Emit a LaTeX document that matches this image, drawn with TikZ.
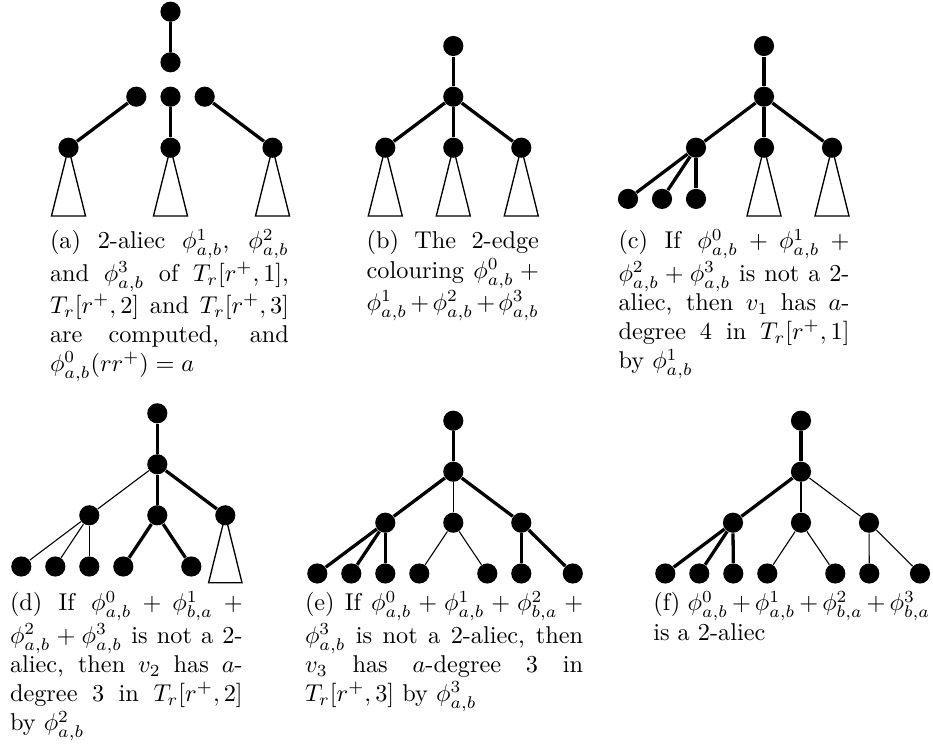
\documentclass[tikz,border=0pt]{standalone}
\usepackage{amsmath}
\tikzset{
  vtx/.style={circle,fill=black,draw=none,inner sep=0pt,minimum size=8.3pt},
  thk/.style={line width=1.35pt},
  thn/.style={line width=0.45pt},
  tri/.style={line width=0.55pt,line join=miter},
  capt/.style={anchor=base west,inner sep=0pt,outer sep=0pt,align=justify,font=\normalsize}
}
\begin{document}
\begin{tikzpicture}[x=0.41152pt,y=-0.41152pt]
\useasboundingbox (0,0) rectangle (933,747);

% ---------- (a) ----------
\draw[tri] (68.5,147.7) -- ++(-17,68.3) -- ++(34,0) -- cycle;
\draw[tri] (170.5,147.7) -- ++(-17,68.3) -- ++(34,0) -- cycle;
\draw[tri] (272.5,147.7) -- ++(-17,68.3) -- ++(34,0) -- cycle;
\node[vtx] (a0) at (170.5,11.7) {};
\node[vtx] (a1) at (170.5,62.3) {};
\node[vtx] (a2) at (136.3,96.7) {};
\node[vtx] (a3) at (170.5,96.7) {};
\node[vtx] (a4) at (204.7,96.7) {};
\node[vtx] (av1) at (68.5,147.7) {};
\node[vtx] (av2) at (170.5,147.7) {};
\node[vtx] (av3) at (272.5,147.7) {};
\draw[thk] (a0) -- (a1);
\draw[thk] (a2) -- (av1);
\draw[thk] (a3) -- (av2);
\draw[thk] (a4) -- (av3);

% ---------- (b) ----------
\draw[tri] (385.3,147.7) -- ++(-17,68.3) -- ++(34,0) -- cycle;
\draw[tri] (453.3,147.7) -- ++(-17,68.3) -- ++(34,0) -- cycle;
\draw[tri] (521.3,147.7) -- ++(-17,68.3) -- ++(34,0) -- cycle;
\node[vtx] (b0) at (453.3,46) {};
\node[vtx] (b1) at (453.3,96.7) {};
\node[vtx] (bv1) at (385.3,147.7) {};
\node[vtx] (bv2) at (453.3,147.7) {};
\node[vtx] (bv3) at (521.3,147.7) {};
\draw[thk] (b0) -- (b1);
\draw[thk] (b1) -- (bv1);
\draw[thk] (b1) -- (bv2);
\draw[thk] (b1) -- (bv3);

% ---------- (c) ----------
\draw[tri] (764,147.7) -- ++(-17,68.3) -- ++(34,0) -- cycle;
\draw[tri] (832,147.7) -- ++(-17,68.3) -- ++(34,0) -- cycle;
\node[vtx] (c0) at (764,46) {};
\node[vtx] (c1) at (764,96.7) {};
\node[vtx] (cv1) at (696,147.7) {};
\node[vtx] (cv2) at (764,147.7) {};
\node[vtx] (cv3) at (832,147.7) {};
\node[vtx] (cl1) at (628,198.9) {};
\node[vtx] (cl2) at (662,198.9) {};
\node[vtx] (cl3) at (696,198.9) {};
\draw[thk] (c0) -- (c1);
\draw[thk] (c1) -- (cv1);
\draw[thk] (c1) -- (cv2);
\draw[thk] (c1) -- (cv3);
\draw[thk] (cv1) -- (cl1);
\draw[thk] (cv1) -- (cl2);
\draw[thk] (cv1) -- (cl3);

% ---------- (d) ----------
\draw[tri] (225.3,515.3) -- ++(-16.7,67.4) -- ++(33.4,0) -- cycle;
\node[vtx] (d0) at (157.3,413.3) {};
\node[vtx] (d1) at (157.3,464.3) {};
\node[vtx] (dv1) at (89.3,515.3) {};
\node[vtx] (dv2) at (157.3,515.3) {};
\node[vtx] (dv3) at (225.3,515.3) {};
\node[vtx] (dl1) at (21.3,566.5) {};
\node[vtx] (dl2) at (55.3,566.5) {};
\node[vtx] (dl3) at (89.3,566.5) {};
\node[vtx] (dl4) at (123.3,566.5) {};
\node[vtx] (dl5) at (191.3,566.5) {};
\draw[thk] (d0) -- (d1);
\draw[thn] (d1) -- (dv1);
\draw[thk] (d1) -- (dv2);
\draw[thk] (d1) -- (dv3);
\draw[thn] (dv1) -- (dl1);
\draw[thn] (dv1) -- (dl2);
\draw[thn] (dv1) -- (dl3);
\draw[thk] (dv2) -- (dl4);
\draw[thk] (dv2) -- (dl5);

% ---------- (e) ----------
\node[vtx] (e0) at (453.3,420.7) {};
\node[vtx] (e1) at (453.3,471.7) {};
\node[vtx] (ev1) at (385.3,522.7) {};
\node[vtx] (ev2) at (453.3,522.7) {};
\node[vtx] (ev3) at (521.3,522.7) {};
\node[vtx] (el1) at (317.3,573.5) {};
\node[vtx] (el2) at (351.3,573.5) {};
\node[vtx] (el3) at (385.3,573.5) {};
\node[vtx] (el4) at (419.3,573.5) {};
\node[vtx] (el5) at (487.3,573.5) {};
\node[vtx] (el6) at (521.3,573.5) {};
\node[vtx] (el7) at (572.8,573.5) {};
\draw[thk] (e0) -- (e1);
\draw[thk] (e1) -- (ev1);
\draw[thn] (e1) -- (ev2);
\draw[thk] (e1) -- (ev3);
\draw[thk] (ev1) -- (el1);
\draw[thk] (ev1) -- (el2);
\draw[thk] (ev1) -- (el3);
\draw[thn] (ev2) -- (el4);
\draw[thn] (ev2) -- (el5);
\draw[thk] (ev3) -- (el6);
\draw[thk] (ev3) -- (el7);

% ---------- (f) ----------
\node[vtx] (f0) at (801,420.7) {};
\node[vtx] (f1) at (801,471.7) {};
\node[vtx] (fv1) at (733,522.7) {};
\node[vtx] (fv2) at (801,522.7) {};
\node[vtx] (fv3) at (869,522.7) {};
\node[vtx] (fl1) at (665.3,573.5) {};
\node[vtx] (fl2) at (699.3,573.5) {};
\node[vtx] (fl3) at (733.3,573.5) {};
\node[vtx] (fl4) at (767.3,573.5) {};
\node[vtx] (fl5) at (835.3,573.5) {};
\node[vtx] (fl6) at (869.3,573.5) {};
\node[vtx] (fl7) at (920,573.5) {};
\draw[thk] (f0) -- (f1);
\draw[thk] (f1) -- (fv1);
\draw[thn] (f1) -- (fv2);
\draw[thn] (f1) -- (fv3);
\draw[thk] (fv1) -- (fl1);
\draw[thk] (fv1) -- (fl2);
\draw[thk] (fv1) -- (fl3);
\draw[thn] (fv2) -- (fl4);
\draw[thn] (fv2) -- (fl5);
\draw[thn] (fv3) -- (fl6);
\draw[thn] (fv3) -- (fl7);

% ---------- captions ----------
\node[capt,text width=98.35pt] (capa) at (50,249) {(a) 2-aliec $\phi^1_{a,b}$, $\phi^2_{a,b}$\linebreak and $\phi^3_{a,b}$ of $T_r[r^+,1]$,\linebreak $T_r[r^+,2]$ and $T_r[r^+,3]$\linebreak are computed, and\linebreak $\phi^0_{a,b}(rr^+)=a$};
\node[capt,text width=70.9pt] (capb) at (366.7,249) {(b) The 2-edge\linebreak colouring $\phi^0_{a,b}+\linebreak\phi^1_{a,b}+\phi^2_{a,b}+\phi^3_{a,b}$};
\node[capt,text width=95.06pt] (capc) at (618.5,249) {(c) If $\phi^0_{a,b}+\phi^1_{a,b}+\linebreak\phi^2_{a,b}+\phi^3_{a,b}$ is not a 2-\linebreak aliec, then $v_1$ has $a$-\linebreak degree 4 in $T_r[r^+,1]$\linebreak by $\phi^1_{a,b}$};
\node[capt,text width=95.76pt] (capd) at (10,611) {(d) If $\phi^0_{a,b}+\phi^1_{b,a}+\linebreak\phi^2_{a,b}+\phi^3_{a,b}$ is not a 2-\linebreak aliec, then $v_2$ has $a$-\linebreak degree 3 in $T_r[r^+,2]$\linebreak by $\phi^2_{a,b}$};
\node[capt,text width=114.5pt] (cape) at (305,611) {(e) If $\phi^0_{a,b}+\phi^1_{a,b}+\phi^2_{b,a}+\linebreak\phi^3_{a,b}$ is not a 2-aliec, then\linebreak $v_3$ has $a$-degree 3 in\linebreak $T_r[r^+,3]$ by $\phi^3_{a,b}$};
\node[capt,text width=113.9pt] (capf) at (653.3,611) {(f) $\phi^0_{a,b}+\phi^1_{a,b}+\phi^2_{b,a}+\phi^3_{b,a}$\linebreak is a 2-aliec};
\end{tikzpicture}
\end{document}
